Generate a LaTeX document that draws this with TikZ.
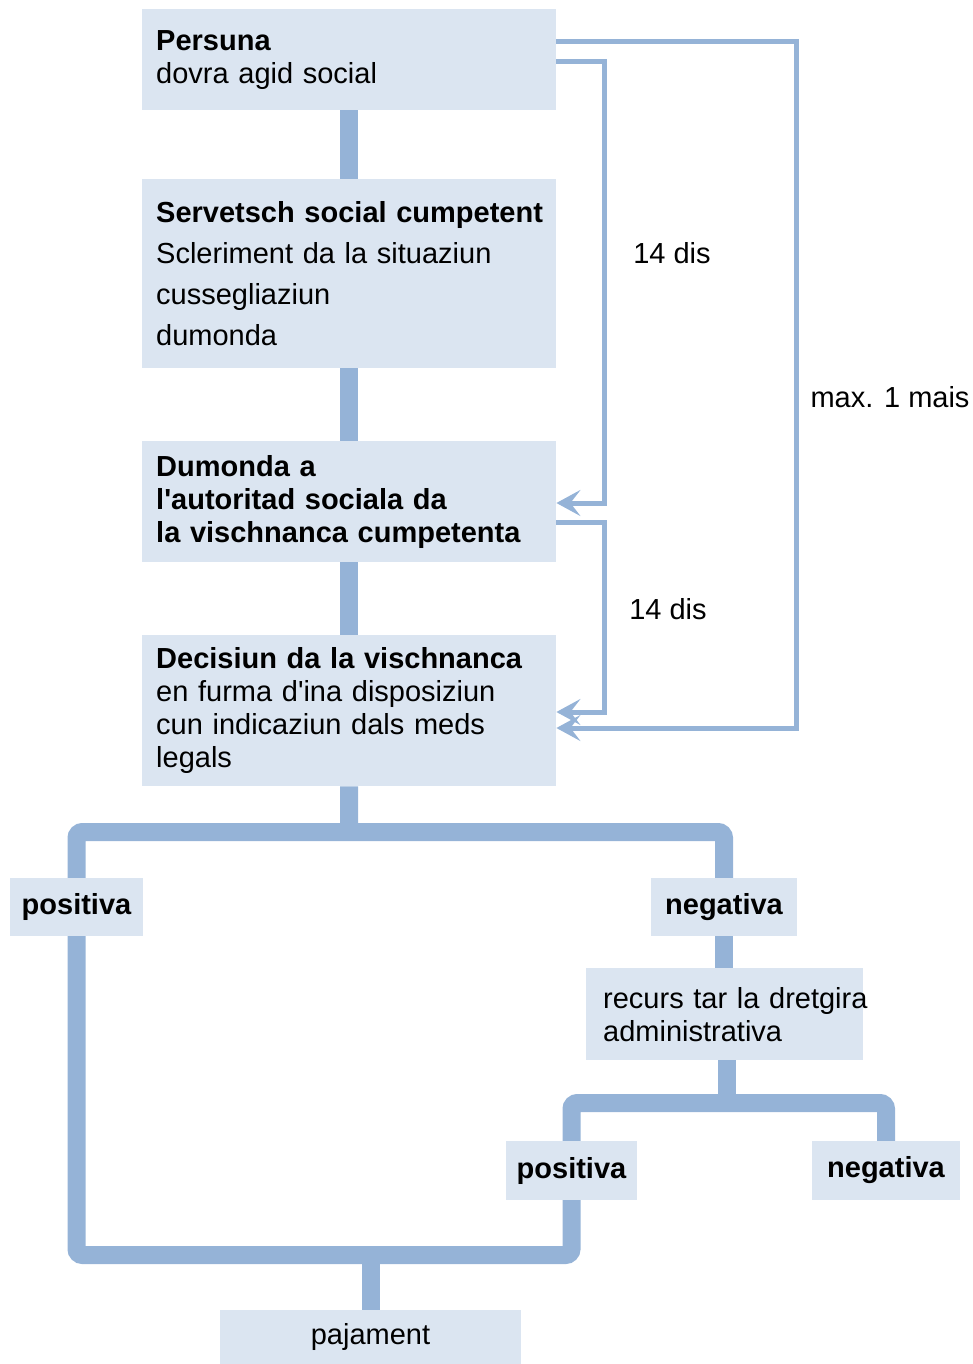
\documentclass[tikz,border=0pt]{standalone}
\usepackage{fontspec}
\setmainfont{Liberation Sans}
\usetikzlibrary{arrows.meta}
\definecolor{boxfill}{HTML}{DBE5F1}
\definecolor{linecol}{HTML}{95B3D7}

\begin{document}
\begin{tikzpicture}[x=1pt,y=-1pt,
		box/.style={fill=boxfill,anchor=north west,align=left,inner xsep=14pt,inner ysep=0pt,
			text width=386pt,font=\fontsize{29}{33}\selectfont},
		small/.style={fill=boxfill,inner sep=0pt,font=\fontsize{29}{33}\selectfont\bfseries},
		conn/.style={draw=linecol,line width=18pt,rounded corners=6pt},
		link/.style={draw=linecol,line width=5pt,-{Stealth[length=24pt,width=26pt,inset=10pt]}},
		lbl/.style={font=\fontsize{29}{33}\selectfont}]
		\useasboundingbox (0,0) rectangle (973,1364);
		% main column
		\node [box,minimum height=101pt] (person) at (142,9)
			{\textbf{Persuna}\\dovra agid social\\[8pt]};
		\node [box,minimum height=189pt,font=\fontsize{29}{41}\selectfont] (service) at (142,179)
			{\mbox{\textbf{Servetsch social cumpetent}}\\Scleriment da la situaziun\\cussegliaziun\\dumonda};
		\node [box,minimum height=121pt] (request) at (142,441)
			{\textbf{Dumonda a}\\\textbf{l\textquotesingle autoritad sociala da}\\\textbf{la vischnanca cumpetenta}};
		\node [box,minimum height=151pt] (decision) at (142,635)
			{\textbf{Decisiun da la vischnanca}\\en furma d\textquotesingle ina disposiziun\\cun indicaziun dals meds\\legals};
		% outcomes
		\node [small,minimum width=133pt,minimum height=58pt] (pos1) at (76.5,907) {positiva};
		\node [small,minimum width=146pt,minimum height=58pt] (neg1) at (724,907) {negativa};
		\node [box,text width=243pt,inner xsep=17pt,minimum height=92pt] (appeal) at (586,968)
			{\mbox{recurs tar la dretgira}\\administrativa};
		\node [small,minimum width=131pt,minimum height=59pt] (pos2) at (571.5,1170.5) {positiva};
		\node [small,minimum width=148pt,minimum height=59pt] (neg2) at (886,1170.5) {negativa};
		\node [small,font=\fontsize{29}{33}\selectfont,minimum width=301pt,minimum height=54pt] (pay) at (370.5,1337) {pajament};
		% time limits
		\node [lbl] (days1) at (672,253) {14 dis};
		\node [lbl] (days2) at (668,609) {14 dis};
		\node [lbl] (month) at (890,397) {max. 1 mais};
		\coordinate (bus1) at (349,832);
		\coordinate (bus2) at (727,1103);
		\coordinate (bus3) at (370.5,1255);
		% thick connectors
		\draw [conn] (person.south) -- (service.north);
		\draw [conn] (service.south) -- (request.north);
		\draw [conn] (request.south) -- (decision.north);
		\draw [conn] (decision.south) -- (bus1);
		\draw [conn] (pos1.north) -- (pos1.north |- bus1) -- (neg1.north |- bus1) -- (neg1.north);
		\draw [conn] (neg1.south) -- (appeal.north -| neg1.south);
		\draw [conn] (appeal.south -| bus2) -- (bus2);
		\draw [conn] (pos2.north) -- (pos2.north |- bus2) -- (neg2.north |- bus2) -- (neg2.north);
		\draw [conn] (pos1.south) -- (pos1.south |- bus3) -- (pos2.south |- bus3) -- (pos2.south);
		\draw [conn] (bus3) -- (pay.north);
		% deadlines
		\draw [link] (person.east |- 0,62) -- (604,62) |- (request.east |- 0,503);
		\draw [link] (person.east |- 0,42) -- (796,42) |- (decision.east |- 0,728);
		\draw [link] (request.east |- 0,522) -- (604,522) |- (decision.east |- 0,712);
\end{tikzpicture}
\end{document}
